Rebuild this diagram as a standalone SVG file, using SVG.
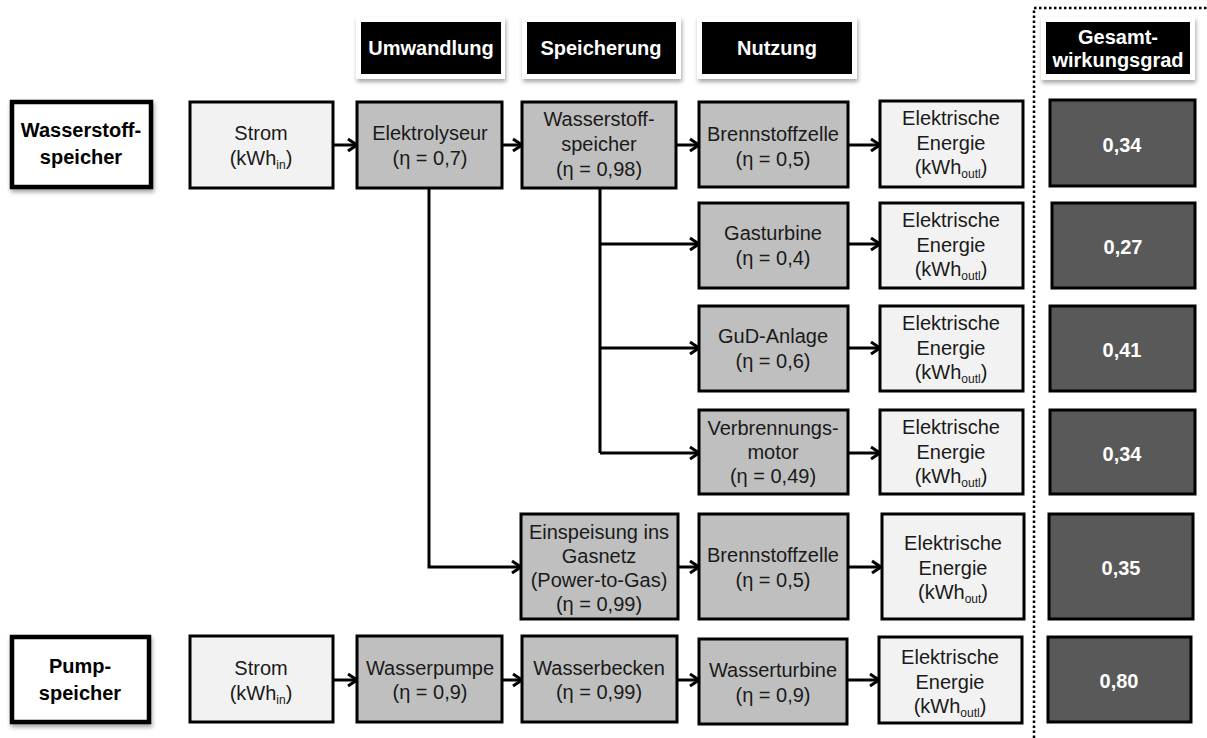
<svg xmlns="http://www.w3.org/2000/svg" width="1207" height="738" viewBox="0 0 1207 738">
<style>
text{font-family:"Liberation Sans",Arial,sans-serif;font-size:20px;text-anchor:middle;fill:#1a1a1a}
.hd{fill:#fff;font-weight:bold}
.lb{font-weight:bold;fill:#000}
.res{fill:#fff;font-weight:bold}
.sub{font-size:12px}
.in{fill:#f2f2f2;stroke:#000;stroke-width:3}
.pr{fill:#bfbfbf;stroke:#000;stroke-width:3}
.rs{fill:#595959;stroke:#000;stroke-width:3}
.lab{fill:#fff;stroke:#000;stroke-width:4.5}
.hbox{fill:#fff}
.hblk{fill:#000}
.con{fill:none;stroke:#000;stroke-width:3}
</style>
<defs>
<filter id="sh" x="-20%" y="-20%" width="140%" height="150%">
<feDropShadow dx="1" dy="3" stdDeviation="2" flood-color="#000" flood-opacity="0.35"/>
</filter>
<marker id="ar" markerUnits="userSpaceOnUse" markerWidth="14" markerHeight="16" refX="12" refY="8" orient="auto">
<path d="M3,2 L12,8 L3,14" fill="none" stroke="#000" stroke-width="3"/>
</marker>
</defs>

<g id="divider">
<path d="M1034,738 L1034,8 L1207,8" fill="none" stroke="#000" stroke-width="2.5" stroke-dasharray="2.5 2.5"/>
</g>

<g id="header-umwandlung">
<rect class="hbox" x="356" y="17" width="149" height="62" filter="url(#sh)"/>
<rect class="hblk" x="361" y="22" width="140" height="52"/>
<text class="hd" x="431" y="55">Umwandlung</text>
</g>
<g id="header-speicherung">
<rect class="hbox" x="522" y="17" width="159" height="62" filter="url(#sh)"/>
<rect class="hblk" x="527" y="22" width="149" height="52"/>
<text class="hd" x="601" y="55">Speicherung</text>
</g>
<g id="header-nutzung">
<rect class="hbox" x="697" y="17" width="160" height="62" filter="url(#sh)"/>
<rect class="hblk" x="702" y="22" width="150" height="52"/>
<text class="hd" x="777" y="55">Nutzung</text>
</g>
<g id="header-gesamt">
<rect class="hbox" x="1041" y="17" width="154" height="63" filter="url(#sh)"/>
<rect class="hblk" x="1046" y="22" width="144" height="52"/>
<text class="hd" x="1118" y="44">Gesamt-</text>
<text class="hd" x="1118" y="67">wirkungsgrad</text>
</g>

<g id="label-wasserstoff">
<rect class="lab" x="12" y="102" width="139" height="85" filter="url(#sh)"/>
<text class="lb" x="81" y="137">Wasserstoff-</text>
<text class="lb" x="81" y="164">speicher</text>
</g>
<g id="label-pump">
<rect class="lab" x="12" y="637" width="137" height="85" filter="url(#sh)"/>
<text class="lb" x="80" y="673">Pump-</text>
<text class="lb" x="80" y="700">speicher</text>
</g>

<g id="connectors">
<line class="con" x1="333" y1="145" x2="357" y2="145" marker-end="url(#ar)"/>
<line class="con" x1="502" y1="145" x2="522" y2="145" marker-end="url(#ar)"/>
<line class="con" x1="676" y1="145" x2="699" y2="145" marker-end="url(#ar)"/>
<line class="con" x1="848" y1="145" x2="880" y2="145" marker-end="url(#ar)"/>
<path class="con" d="M600,188 L600,453"/>
<line class="con" x1="600" y1="244" x2="699" y2="244" marker-end="url(#ar)"/>
<line class="con" x1="600" y1="348" x2="699" y2="348" marker-end="url(#ar)"/>
<line class="con" x1="600" y1="453" x2="699" y2="453" marker-end="url(#ar)"/>
<line class="con" x1="848" y1="244" x2="880" y2="244" marker-end="url(#ar)"/>
<line class="con" x1="848" y1="348" x2="880" y2="348" marker-end="url(#ar)"/>
<line class="con" x1="848" y1="453" x2="880" y2="453" marker-end="url(#ar)"/>
<path class="con" d="M429,188 L429,567 L521,567" marker-end="url(#ar)"/>
<line class="con" x1="678" y1="567" x2="699" y2="567" marker-end="url(#ar)"/>
<line class="con" x1="848" y1="567" x2="881" y2="567" marker-end="url(#ar)"/>
<line class="con" x1="333" y1="680" x2="357" y2="680" marker-end="url(#ar)"/>
<line class="con" x1="502" y1="680" x2="522" y2="680" marker-end="url(#ar)"/>
<line class="con" x1="677" y1="680" x2="699" y2="680" marker-end="url(#ar)"/>
<line class="con" x1="847" y1="680" x2="879" y2="680" marker-end="url(#ar)"/>
</g>

<!-- Row 1 -->
<g id="strom-1">
<rect class="in" x="190" y="102" width="143" height="86"/>
<text x="261" y="140">Strom</text>
<text x="261" y="165">(kWh<tspan class="sub" dy="4">in</tspan><tspan dy="-4">)</tspan></text>
</g>
<g id="elektrolyseur">
<rect class="pr" x="357" y="102" width="145" height="86"/>
<text x="430" y="140">Elektrolyseur</text>
<text x="430" y="165">(η = 0,7)</text>
</g>
<g id="wasserstoffspeicher">
<rect class="pr" x="522" y="102" width="154" height="86"/>
<text x="599" y="126">Wasserstoff-</text>
<text x="599" y="151">speicher</text>
<text x="599" y="176">(η = 0,98)</text>
</g>
<g id="brennstoffzelle-1">
<rect class="pr" x="699" y="102" width="149" height="85"/>
<text x="773" y="141">Brennstoffzelle</text>
<text x="773" y="166">(η = 0,5)</text>
</g>
<g id="energie-1">
<rect class="in" x="880" y="101" width="143" height="86"/>
<text x="951" y="125">Elektrische</text>
<text x="951" y="150">Energie</text>
<text x="951" y="174">(kWh<tspan class="sub" dy="4">outl</tspan><tspan dy="-4">)</tspan></text>
</g>
<g id="result-1">
<rect class="rs" x="1050" y="100" width="145" height="86"/>
<text class="res" x="1122" y="152">0,34</text>
</g>

<!-- Row 2 -->
<g id="gasturbine">
<rect class="pr" x="699" y="203" width="149" height="85"/>
<text x="773" y="240">Gasturbine</text>
<text x="773" y="265">(η = 0,4)</text>
</g>
<g id="energie-2">
<rect class="in" x="880" y="203" width="143" height="85"/>
<text x="951" y="227">Elektrische</text>
<text x="951" y="252">Energie</text>
<text x="951" y="276">(kWh<tspan class="sub" dy="4">outl</tspan><tspan dy="-4">)</tspan></text>
</g>
<g id="result-2">
<rect class="rs" x="1052" y="203" width="143" height="85"/>
<text class="res" x="1123" y="254">0,27</text>
</g>

<!-- Row 3 -->
<g id="gud">
<rect class="pr" x="699" y="306" width="149" height="85"/>
<text x="773" y="343">GuD-Anlage</text>
<text x="773" y="368">(η = 0,6)</text>
</g>
<g id="energie-3">
<rect class="in" x="880" y="306" width="143" height="85"/>
<text x="951" y="330">Elektrische</text>
<text x="951" y="355">Energie</text>
<text x="951" y="379">(kWh<tspan class="sub" dy="4">outl</tspan><tspan dy="-4">)</tspan></text>
</g>
<g id="result-3">
<rect class="rs" x="1050" y="306" width="145" height="85"/>
<text class="res" x="1122" y="357">0,41</text>
</g>

<!-- Row 4 -->
<g id="verbrennungsmotor">
<rect class="pr" x="699" y="410" width="149" height="84"/>
<text x="773" y="435">Verbrennungs-</text>
<text x="773" y="459">motor</text>
<text x="773" y="483">(η = 0,49)</text>
</g>
<g id="energie-4">
<rect class="in" x="880" y="410" width="143" height="84"/>
<text x="951" y="434">Elektrische</text>
<text x="951" y="459">Energie</text>
<text x="951" y="483">(kWh<tspan class="sub" dy="4">outl</tspan><tspan dy="-4">)</tspan></text>
</g>
<g id="result-4">
<rect class="rs" x="1050" y="410" width="145" height="84"/>
<text class="res" x="1122" y="461">0,34</text>
</g>

<!-- Row 5 -->
<g id="einspeisung">
<rect class="pr" x="521" y="514" width="157" height="105"/>
<text x="599" y="539">Einspeisung ins</text>
<text x="599" y="563">Gasnetz</text>
<text x="599" y="587">(Power-to-Gas)</text>
<text x="599" y="611">(η = 0,99)</text>
</g>
<g id="brennstoffzelle-2">
<rect class="pr" x="699" y="514" width="149" height="105"/>
<text x="773" y="562">Brennstoffzelle</text>
<text x="773" y="587">(η = 0,5)</text>
</g>
<g id="energie-5">
<rect class="in" x="882" y="514" width="142" height="105"/>
<text x="953" y="550">Elektrische</text>
<text x="953" y="575">Energie</text>
<text x="953" y="599">(kWh<tspan class="sub" dy="4">out</tspan><tspan dy="-4">)</tspan></text>
</g>
<g id="result-5">
<rect class="rs" x="1049" y="514" width="144" height="105"/>
<text class="res" x="1121" y="575">0,35</text>
</g>

<!-- Row 6 -->
<g id="strom-2">
<rect class="in" x="190" y="636" width="143" height="86"/>
<text x="261" y="675">Strom</text>
<text x="261" y="700">(kWh<tspan class="sub" dy="4">in</tspan><tspan dy="-4">)</tspan></text>
</g>
<g id="wasserpumpe">
<rect class="pr" x="357" y="636" width="145" height="86"/>
<text x="430" y="675">Wasserpumpe</text>
<text x="430" y="699">(η = 0,9)</text>
</g>
<g id="wasserbecken">
<rect class="pr" x="522" y="636" width="155" height="86"/>
<text x="599" y="675">Wasserbecken</text>
<text x="599" y="699">(η = 0,99)</text>
</g>
<g id="wasserturbine">
<rect class="pr" x="699" y="639" width="148" height="85"/>
<text x="773" y="677">Wasserturbine</text>
<text x="773" y="702">(η = 0,9)</text>
</g>
<g id="energie-6">
<rect class="in" x="879" y="637" width="143" height="86"/>
<text x="950" y="664">Elektrische</text>
<text x="950" y="689">Energie</text>
<text x="950" y="713">(kWh<tspan class="sub" dy="4">outl</tspan><tspan dy="-4">)</tspan></text>
</g>
<g id="result-6">
<rect class="rs" x="1048" y="637" width="143" height="85"/>
<text class="res" x="1119" y="688">0,80</text>
</g>
</svg>
